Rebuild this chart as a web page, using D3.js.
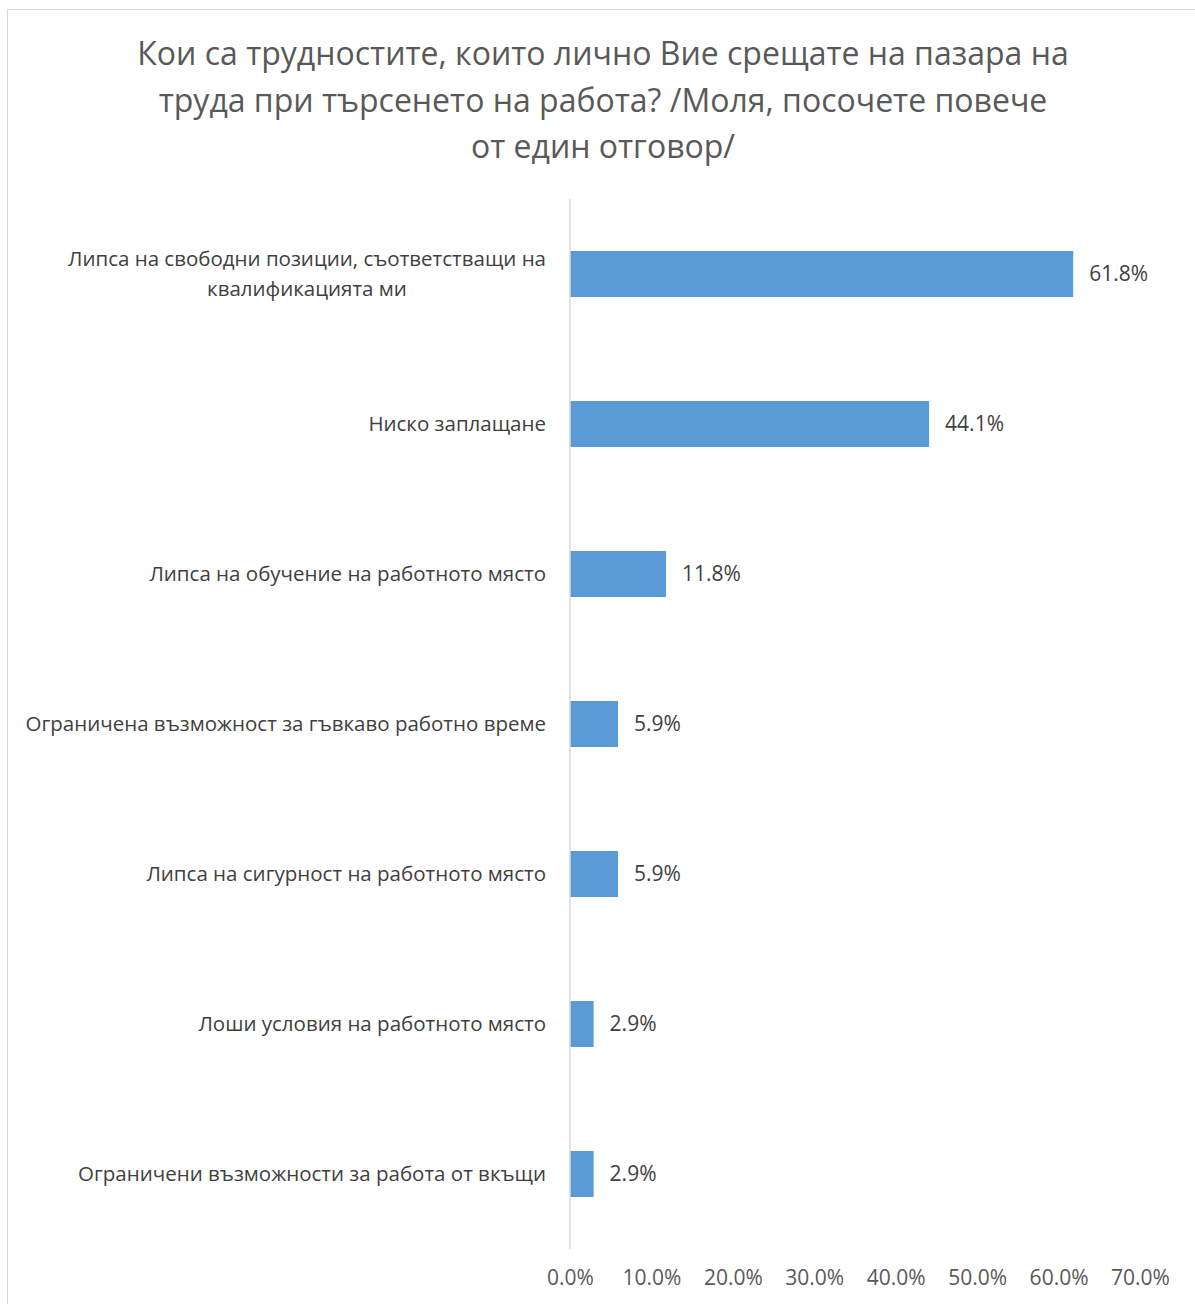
<!DOCTYPE html>
<html><head><meta charset="utf-8">
<script src="https://cdn.jsdelivr.net/npm/d3@7"></script>
<style>body{margin:0;background:#fff}svg{display:block}text{font-family:"Open Sans",sans-serif}</style>
</head><body>
<script>
const titleLines = ["Кои са трудностите, които лично Вие срещате на пазара на","труда при търсенето на работа? /Моля, посочете повече","от един отговор/"];
const categories = [
  ["Липса на свободни позиции, съответстващи на","квалификацията ми"],
  ["Ниско заплащане"],
  ["Липса на обучение на работното място"],
  ["Ограничена възможност за гъвкаво работно време"],
  ["Липса на сигурност на работното място"],
  ["Лоши условия на работното място"],
  ["Ограничени възможности за работа от вкъщи"]
];
const values = [0.618, 0.441, 0.118, 0.059, 0.059, 0.029, 0.029];
const ticks = [0, 0.1, 0.2, 0.3, 0.4, 0.5, 0.6, 0.7];

const W = 1195, H = 1304;
const svg = d3.select("body").append("svg").attr("width", W).attr("height", H);
svg.append("rect").attr("x", 7.5).attr("y", 9.5).attr("width", W).attr("height", H)
  .attr("fill", "#fff").attr("stroke", "#d9d9d9").attr("stroke-width", 1);

svg.append("g").selectAll("text").data(titleLines).join("text")
  .attr("x", 603).attr("y", (d, i) => 65 + i * 46.5)
  .attr("text-anchor", "middle").attr("font-size", 32).attr("fill", "#595959").text(d => d);

const idx = categories.map((d, i) => i);
const y = d3.scaleBand().domain(idx).range([199, 1249]).paddingInner(0.693).paddingOuter(0.3465);
const x = d3.scaleLinear().domain([0, 0.7]).range([570, 1140]);

svg.append("g").selectAll("rect").data(values).join("rect")
  .attr("x", x(0)).attr("y", (d, i) => y(i)).attr("width", d => x(d) - x(0)).attr("height", y.bandwidth())
  .attr("fill", "#5b9bd5");

svg.append("line").attr("x1", x(0)).attr("x2", x(0)).attr("y1", 199).attr("y2", 1249)
  .attr("stroke", "#d9d9d9").attr("stroke-width", 1.5);

const fmt = d3.format(".1%");
svg.append("g").selectAll("text").data(values).join("text")
  .attr("x", d => x(d) + 16).attr("y", (d, i) => y(i) + y.bandwidth() / 2).attr("dy", "0.35em")
  .attr("font-size", 21).attr("fill", "#404040").text(d => fmt(d));

// category labels
const lab = svg.append("g");
categories.forEach((lines, i) => {
  const cy = y(i) + y.bandwidth() / 2;
  const lh = 30;
  const g = lab.append("g");
  const ts = lines.map((t, j) => g.append("text").attr("font-size", 20.5).attr("fill", "#404040")
    .attr("y", cy + (j - (lines.length - 1) / 2) * lh).attr("dy", "0.35em").text(t));
  const widths = ts.map(t => t.node().getComputedTextLength());
  const maxW = Math.max(...widths);
  const center = 546 - maxW / 2;
  ts.forEach(t => t.attr("x", center).attr("text-anchor", "middle"));
});

const xAxis = d3.axisBottom(x).tickValues(ticks).tickFormat(fmt).tickSize(0);
const ax = svg.append("g").attr("transform", "translate(0,1267)").call(xAxis);
ax.select(".domain").remove();
ax.selectAll("text").attr("font-size", 21).attr("fill", "#595959").attr("font-family", "Open Sans");
</script>
</body></html>
